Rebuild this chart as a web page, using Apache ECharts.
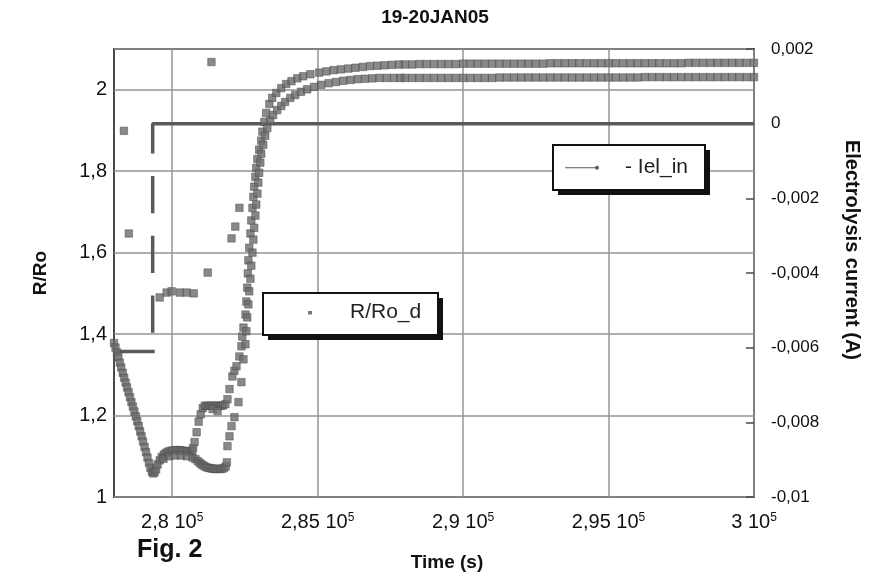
<!DOCTYPE html>
<html>
<head>
<meta charset="utf-8">
<title>19-20JAN05</title>
<script src="https://cdn.jsdelivr.net/npm/echarts@6/dist/echarts.min.js"></script>
<style>
  html, body { margin: 0; padding: 0; background: #ffffff; }
  #chart { width: 870px; height: 577px; }
</style>
</head>
<body>
<div id="chart"></div>
<script>
// ---- chart texts ----
const chartTitle = '19-20JAN05';
const figureLabel = 'Fig. 2';
const xAxisName = 'Time (s)';
const leftAxisName = 'R/Ro';
const rightAxisName = 'Electrolysis current (A)';
const currentName = '- Iel_in';
const ratioName = 'R/Ro_d';

// ---- axis ranges ----
const timeRange = [278000, 300000];
const timeLabelValues = [280000, 285000, 290000, 295000, 300000];
const ratioRange = [1, 2.1];
const currentRange = [-0.01, 0.002];

// ---- electrolysis current, [time s, current A]; null = break in the trace ----
const currentPairs = [
  [278000, -0.0061], [279400, -0.0061], null,
  [279330, -0.0056], [279330, -0.0046], null,
  [279330, -0.0040], [279330, -0.0030], null,
  [279330, -0.0024], [279330, -0.0014], null,
  [279330, -0.0008], [279330, 0], [300000, 0]
];

// ---- R/Ro_d, upper branch, [time s, R/Ro] ----
const ratioUpper = [
  [278000,1.378],[278050,1.367],[278100,1.355],[278150,1.343],[278200,1.330],[278250,1.318],
  [278300,1.305],[278350,1.293],[278400,1.281],[278450,1.269],[278500,1.257],[278550,1.245],
  [278600,1.233],[278650,1.222],[278700,1.210],[278750,1.198],[278800,1.186],[278850,1.174],
  [278900,1.161],[278950,1.149],[279000,1.136],[279050,1.123],[279100,1.110],[279150,1.097],
  [279200,1.084],[279250,1.072],[279300,1.062],[279350,1.058],[279400,1.061],[279450,1.068],
  [279500,1.080],[279570,1.090],[279640,1.098],[279710,1.104],[279780,1.108],[279850,1.111],
  [279920,1.113],[280000,1.114],[280090,1.115],[280170,1.115],[280260,1.115],[280340,1.114],
  [280430,1.113],[280510,1.112],[280600,1.112],[280680,1.114],[280720,1.120],[280770,1.135],
  [280840,1.159],[280910,1.185],[280980,1.203],[281050,1.218],[281120,1.224],[281190,1.224],
  [281260,1.224],[281330,1.224],[281400,1.224],[281470,1.224],[281540,1.224],[281610,1.224],
  [281680,1.224],[281750,1.225],[281830,1.228],[281900,1.240],[281970,1.265],[282070,1.296],
  [282140,1.310],[282210,1.321],[282310,1.345],[282380,1.370],[282410,1.394],[282450,1.416],
  [282520,1.448],[282550,1.480],[282580,1.514],[282600,1.549],[282620,1.581],[282650,1.612],
  [282690,1.647],[282720,1.679],[282760,1.710],[282790,1.737],[282820,1.762],[282860,1.786],
  [282890,1.808],[282930,1.830],[282990,1.853],[283060,1.875],[283100,1.897],[283170,1.921],
  [283230,1.943],[283340,1.965],[283440,1.980],[283580,1.992],[283750,2.004],[283920,2.014],
  [284100,2.021],[284300,2.028],[284500,2.033],[284750,2.038],[285050,2.042],[285300,2.045],
  [285550,2.048],[285800,2.050],[286050,2.052],[286300,2.054],[286550,2.056],[286800,2.058],
  [287050,2.059],[287300,2.060],[287550,2.061],[287800,2.062],[288000,2.062],[288250,2.062],
  [288500,2.063],[288750,2.063],[289000,2.063],[289250,2.063],[289500,2.063],[289750,2.063],
  [290000,2.064],[290250,2.064],[290500,2.064],[290750,2.064],[291000,2.064],[291250,2.064],
  [291500,2.064],[291750,2.064],[292000,2.064],[292250,2.064],[292500,2.064],[292750,2.064],
  [293000,2.065],[293250,2.065],[293500,2.065],[293750,2.065],[294000,2.065],[294250,2.065],
  [294500,2.065],[294750,2.065],[295000,2.065],[295250,2.065],[295500,2.065],[295750,2.065],
  [296000,2.065],[296250,2.065],[296500,2.065],[296750,2.065],[297000,2.065],[297250,2.065],
  [297500,2.065],[297750,2.066],[298000,2.066],[298250,2.066],[298500,2.066],[298750,2.066],
  [299000,2.066],[299250,2.066],[299500,2.066],[299750,2.066],[300000,2.066]
];

// ---- R/Ro_d, lower branch, [time s, R/Ro] ----
const ratioLower = [
  [279700,1.094],[279900,1.100],[280100,1.102],[280300,1.102],[280500,1.100],[280700,1.097],
  [280800,1.093],[280880,1.088],[280950,1.084],[281010,1.080],[281080,1.077],[281150,1.074],
  [281220,1.072],[281290,1.071],[281360,1.070],[281430,1.069],[281500,1.069],[281570,1.069],
  [281640,1.069],[281710,1.069],[281780,1.071],[281840,1.075],[281880,1.085],
  [281900,1.125],[281970,1.149],[282040,1.174],[282140,1.196],[282280,1.233],[282380,1.282],
  [282450,1.338],[282520,1.375],[282550,1.407],[282580,1.441],[282620,1.473],[282650,1.505],
  [282690,1.536],[282720,1.568],[282760,1.600],[282790,1.632],[282820,1.661],[282860,1.691],
  [282890,1.718],[282930,1.745],[282960,1.772],[282990,1.796],[283030,1.821],[283060,1.843],
  [283130,1.865],[283200,1.887],[283270,1.906],[283370,1.924],[283470,1.938],[283610,1.950],
  [283750,1.960],[283880,1.970],[284060,1.980],[284230,1.987],[284430,1.995],[284640,2.001],
  [284880,2.007],[285120,2.012],[285380,2.016],[285630,2.019],[285880,2.022],[286130,2.024],
  [286380,2.026],[286630,2.027],[286880,2.028],[287130,2.029],[287380,2.029],[287630,2.029],
  [287850,2.029],[288000,2.029],[288250,2.029],[288500,2.029],[288750,2.029],[289000,2.029],
  [289250,2.029],[289500,2.029],[289750,2.029],[290000,2.029],[290250,2.029],[290500,2.029],
  [290750,2.029],[291000,2.029],[291250,2.030],[291500,2.030],[291750,2.030],[292000,2.030],
  [292250,2.030],[292500,2.030],[292750,2.030],[293000,2.030],[293250,2.030],[293500,2.030],
  [293750,2.030],[294000,2.030],[294250,2.030],[294500,2.030],[294750,2.030],[295000,2.030],
  [295250,2.030],[295500,2.030],[295750,2.030],[296000,2.030],[296250,2.031],[296500,2.031],
  [296750,2.031],[297000,2.031],[297250,2.031],[297500,2.031],[297750,2.031],[298000,2.031],
  [298250,2.031],[298500,2.031],[298750,2.031],[299000,2.031],[299250,2.031],[299500,2.031],
  [299750,2.031],[300000,2.031]
];

// ---- R/Ro_d, isolated readings ----
const ratioIsolated = [
  [278340,1.899],[278510,1.647],[279570,1.490],[279810,1.502],[279980,1.505],[280260,1.502],
  [280500,1.502],[280740,1.500],[281220,1.551],[281350,2.068],[281390,1.216],[281560,1.211],
  [282040,1.635],[282170,1.664],[282310,1.710]
];

// ---- styling ----
const FONT = '"Liberation Sans", Arial, Helvetica, sans-serif';
const INK = '#111111';
const GRID_GRAY = '#959595';
const CLEAR = 'rgba(0,0,0,0)';
const MARK_GRAY = '#6c6c6c';

const commaNumber = (v, digits) => String(+v.toFixed(digits)).replace('.', ',');

// minor 1000 s ticks carry no line; only every fifth (from 280000) is drawn
const xSplitColors = [CLEAR, CLEAR, GRID_GRAY, CLEAR, CLEAR];

// legend icons, padded with zero-area points so the mark keeps its place
const currentIcon = 'path://M0,2.4 L31,2.4 L31,3.6 L0,3.6 Z M30,3 A2,2 0 1 1 34,3 A2,2 0 1 1 30,3 Z M55,0.5 L55,0.51 Z';
const ratioIcon = 'path://M0,0 L0,0.01 Z M33,0.5 L37,0.5 L37,4 L33,4 Z M70,0 L70,0.01 Z';

// framed legend panels with a solid drop shadow
const legendPanels = [
  { x: 553, y: 145, width: 152, height: 45 },
  { x: 263, y: 293, width: 175, height: 42 }
];
const panelGraphics = [];
legendPanels.forEach(p => {
  panelGraphics.push({
    type: 'rect', z: 20, silent: true,
    shape: { x: p.x + 5, y: p.y + 5, width: p.width, height: p.height },
    style: { fill: INK }
  });
  panelGraphics.push({
    type: 'rect', z: 21, silent: true,
    shape: { x: p.x, y: p.y, width: p.width, height: p.height },
    style: { fill: '#ffffff', stroke: INK, lineWidth: 2 }
  });
});

const chart = echarts.init(document.getElementById('chart'), null, { renderer: 'canvas' });

const currentData = currentPairs.map(p => p === null ? [279330, '-'] : p);
const ratioData = ratioUpper.concat(ratioLower, ratioIsolated);

const legendBase = {
  orient: 'horizontal',
  selectedMode: false,
  backgroundColor: CLEAR,
  borderWidth: 0,
  itemGap: 0,
  z: 30,
  textStyle: { fontFamily: FONT, fontSize: 21, color: '#222222' }
};

chart.setOption({
  animation: false,
  backgroundColor: '#ffffff',
  textStyle: { fontFamily: FONT },
  graphic: panelGraphics,
  title: [
    {
      text: chartTitle, left: 'center', top: 8, padding: 0,
      textStyle: { fontFamily: FONT, fontSize: 19, fontWeight: 'bold', color: INK }
    },
    {
      text: figureLabel, left: 137, top: 538, padding: 0,
      textStyle: { fontFamily: FONT, fontSize: 25, fontWeight: 'bold', color: INK }
    }
  ],
  legend: [
    Object.assign({}, legendBase, {
      data: [{ name: currentName, icon: currentIcon, itemStyle: { borderWidth: 0 } }],
      left: 553, top: 146,
      padding: [11, 17, 11, 12],
      itemWidth: 55, itemHeight: 5
    }),
    Object.assign({}, legendBase, {
      data: [{ name: ratioName, icon: ratioIcon, itemStyle: { borderWidth: 0, color: '#555555' } }],
      left: 263, top: 292,
      padding: [10, 17, 10, 12],
      itemWidth: 70, itemHeight: 4
    })
  ],
  grid: {
    left: 114, right: 113, top: 49, bottom: 79,
    show: true, borderColor: '#4a4a4a', borderWidth: 2, backgroundColor: CLEAR
  },
  xAxis: {
    type: 'value',
    min: timeRange[0], max: timeRange[1], interval: 1000,
    name: xAxisName, nameLocation: 'middle', nameGap: 56,
    nameTextStyle: { fontFamily: FONT, fontSize: 19, fontWeight: 'bold', color: INK, padding: [0, 0, 0, 26] },
    axisLine: { show: false },
    axisTick: { show: false },
    splitLine: { show: true, lineStyle: { color: xSplitColors, width: 1.5 } },
    axisLabel: {
      margin: 15,
      formatter: v => (timeLabelValues.indexOf(v) >= 0)
        ? '{m|' + commaNumber(v / 1e5, 2) + ' 10}{e|5}' : '',
      rich: {
        m: { fontFamily: FONT, fontSize: 20, color: INK },
        e: { fontFamily: FONT, fontSize: 12, color: INK, verticalAlign: 'top', lineHeight: 12 }
      }
    }
  },
  yAxis: [
    {
      type: 'value', position: 'left',
      min: ratioRange[0], max: ratioRange[1], interval: 0.2,
      name: leftAxisName, nameLocation: 'middle', nameRotate: 90, nameGap: 64,
      nameTextStyle: { fontFamily: FONT, fontSize: 19, fontWeight: 'bold', color: INK },
      axisLine: { show: false },
      axisTick: { show: false },
      splitLine: { show: true, lineStyle: { color: GRID_GRAY, width: 1.5 } },
      axisLabel: {
        margin: 7, fontFamily: FONT, fontSize: 20, color: INK,
        formatter: v => v > 2.05 ? '' : commaNumber(v, 1)
      }
    },
    {
      type: 'value', position: 'right',
      min: currentRange[0], max: currentRange[1], interval: 0.002,
      name: rightAxisName, nameLocation: 'middle', nameRotate: -90, nameGap: 88,
      nameTextStyle: { fontFamily: FONT, fontSize: 20, fontWeight: 'bold', color: INK, padding: [0, 46, 0, 0] },
      axisLine: { show: false },
      axisTick: { show: true, inside: true, length: 8, lineStyle: { color: '#4a4a4a', width: 1.5 } },
      splitLine: { show: false },
      axisLabel: {
        margin: 17, fontFamily: FONT, fontSize: 17, color: INK,
        formatter: v => commaNumber(v, 3)
      }
    }
  ],
  series: [
    {
      name: currentName,
      type: 'line',
      yAxisIndex: 1,
      data: currentData,
      showSymbol: false,
      connectNulls: false,
      lineStyle: { color: '#5a5a5a', width: 3.5 },
      itemStyle: { color: '#5a5a5a' },
      z: 2
    },
    {
      name: ratioName,
      type: 'scatter',
      yAxisIndex: 0,
      data: ratioData,
      symbol: 'rect',
      symbolSize: 7.5,
      itemStyle: { color: MARK_GRAY, borderColor: '#474747', borderWidth: 0.6 },
      z: 3
    }
  ]
});
</script>
</body>
</html>
